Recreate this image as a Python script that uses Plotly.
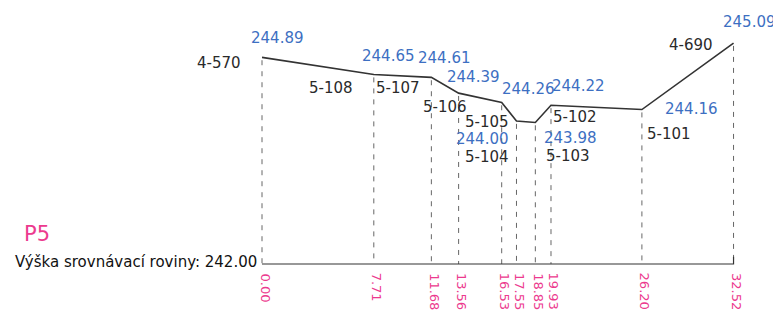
import plotly.graph_objects as go

# ---- data ----
stations = [0.00, 7.71, 11.68, 13.56, 16.53, 17.55, 18.85, 19.93, 26.20, 32.52]
station_labels = ["0.00", "7.71", "11.68", "13.56", "16.53", "17.55", "18.85", "19.93", "26.20", "32.52"]
elevations = [244.89, 244.65, 244.61, 244.39, 244.26, 244.00, 243.98, 244.22, 244.16, 245.09]
elev_labels = ["244.89", "244.65", "244.61", "244.39", "244.26", "244.00", "243.98", "244.22", "244.16", "245.09"]
point_names = ["4-570", "5-108", "5-107", "5-106", "5-105", "5-104", "5-103", "5-102", "5-101", "4-690"]
datum = 242.00
profile_name = "P5"
datum_text = "Výška srovnávací roviny: 242.00"

# ---- label placement (pixel offsets, layout only) ----
elev_offsets = [(15, 19), (15, 19), (13, 19), (15, 16), (27, 13), (-34, -18), (35, -16), (28, 19), (50, 1), (16, 21)]
name_offsets = [(-43, -6), (-43, -13), (-33, -11), (-14, -14), (-15, -20), (-29, -36), (33, -34), (24, -12), (27, -24), (-43, -2)]

BLUE = "#3d6fc2"
PINK = "#ec3a8e"
DARK = "#2a2a2a"
FONT = "DejaVu Sans"

fig = go.Figure()

# dashed verticals
for s, e in zip(stations, elevations):
    fig.add_trace(go.Scatter(x=[s, s], y=[e - 0.04, datum], mode="lines",
                             line=dict(color="#666666", width=1, dash="5px,6px"),
                             hoverinfo="skip", showlegend=False))

# baseline
fig.add_trace(go.Scatter(x=[stations[0], stations[-1], stations[-1]],
                         y=[datum, datum, datum + 0.1], mode="lines",
                         line=dict(color="#333333", width=1.2),
                         hoverinfo="skip", showlegend=False))

# profile line
fig.add_trace(go.Scatter(x=stations, y=elevations, mode="lines",
                         line=dict(color="#333333", width=1.6),
                         hoverinfo="skip", showlegend=False))

ann = []
for s, e, lab, (dx, dy) in zip(stations, elevations, elev_labels, elev_offsets):
    ann.append(dict(x=s, y=e, text=lab, showarrow=False, xshift=dx, yshift=dy,
                    font=dict(family=FONT, size=15, color=BLUE)))
for s, e, lab, (dx, dy) in zip(stations, elevations, point_names, name_offsets):
    ann.append(dict(x=s, y=e, text=lab, showarrow=False, xshift=dx, yshift=dy,
                    font=dict(family=FONT, size=15, color=DARK)))
for s, lab in zip(stations, station_labels):
    ann.append(dict(x=s, y=datum, text=lab, showarrow=False, textangle=90,
                    yanchor="top", xanchor="center", xshift=3, yshift=-7,
                    font=dict(family=FONT, size=13, color=PINK)))
ann.append(dict(x=stations[0], y=datum, text=datum_text, showarrow=False,
                xanchor="right", yanchor="middle", xshift=-3, yshift=2,
                font=dict(family=FONT, size=15, color="#111111")))
ann.append(dict(x=stations[0], y=datum, text=profile_name, showarrow=False,
                xanchor="center", yanchor="middle", xshift=-225, yshift=30,
                font=dict(family=FONT, size=21, color=PINK)))

# page body has an 8px margin, so the figure origin sits at (8, 8) in the window
px_per_m_x = 14.5
px_per_m_y = 71.5
x0_px = 262 - 8
base_px = 264 - 8
W, H = 781, 311
fig.update_layout(
    width=W, height=H,
    margin=dict(l=0, r=0, t=0, b=0),
    paper_bgcolor="white", plot_bgcolor="white",
    xaxis=dict(range=[-x0_px / px_per_m_x, (W - x0_px) / px_per_m_x], visible=False, fixedrange=True),
    yaxis=dict(range=[datum - (H - base_px) / px_per_m_y, datum + base_px / px_per_m_y], visible=False, fixedrange=True),
    annotations=ann,
    showlegend=False,
)

fig.write_html("out.html")
